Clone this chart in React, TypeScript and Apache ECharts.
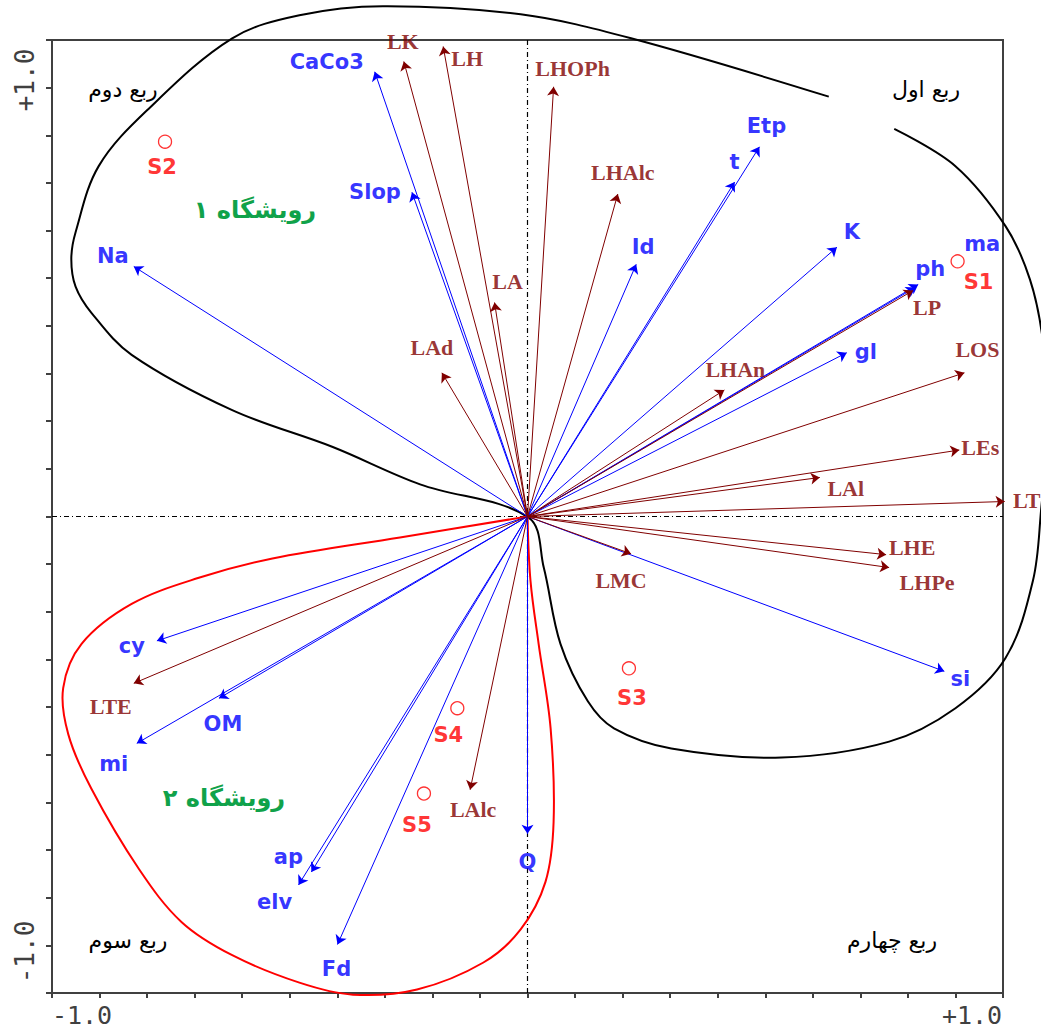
import React, { useEffect, useRef } from "react";
import * as echarts from "echarts";

// ---- Environmental variables (blue arrows) ----
const envNames = ["CaCo3", "Slop", "Na", "Etp", "t", "Id", "K", "ph", "ma", "gl", "si", "Q", "Fd", "elv", "ap", "mi", "OM", "cy"];
const envX = [-0.357, -0.27, -0.92, 0.542, 0.484, 0.254, 0.723, 0.906, 0.913, 0.746, 0.974, 0.0, -0.444, -0.535, -0.505, -0.913, -0.721, -0.866];
const envY = [1.037, 0.756, 0.583, 0.862, 0.78, 0.588, 0.628, 0.534, 0.541, 0.382, -0.361, -0.74, -0.998, -0.859, -0.829, -0.529, -0.424, -0.29];
const envLabelOffset = [[-48, -10], [-37, 0], [-21, -10], [7, -21], [0, -20], [7, -17], [15, -15], [15, -18], [64, -40], [19, -1], [16, 8], [0, 28], [-1, 25], [-24, 17], [-23, -15], [-23, 21], [4, 26], [-25, 5]];

// ---- Species (brown arrows) ----
const spNames = ["LK", "LH", "LHOPh", "LHAlc", "LA", "LAd", "LP", "LHAn", "LOS", "LEs", "LAl", "LT", "LHE", "LHPe", "LMC", "LTE", "LAlc"];
const spX = [-0.289, -0.197, 0.061, 0.211, -0.077, -0.2, 0.901, 0.46, 1.021, 1.009, 0.683, 1.115, 0.838, 0.845, 0.242, -0.92, -0.134];
const spY = [1.061, 1.096, 1.002, 0.752, 0.499, 0.335, 0.527, 0.295, 0.335, 0.155, 0.091, 0.035, -0.089, -0.119, -0.087, -0.389, -0.637];
const spLabelOffset = [[-1, -20], [24, 12], [19, -18], [5, -22], [13, -21], [-10, -25], [14, 17], [11, -20], [13, -23], [21, -3], [26, 11], [22, -1], [26, -7], [38, 15], [-10, 27], [-23, 23], [3, 20]];

// ---- Sites (red circles) ----
const siteNames = ["S1", "S2", "S3", "S4", "S5"];
const siteX = [1.005, -0.847, 0.237, -0.164, -0.242];
const siteY = [0.595, 0.874, -0.354, -0.447, -0.646];
const siteLabelOffset = [[21, 21], [-3, 25], [3, 30], [-9, 27], [-7, 31]];

// ---- Hand-drawn envelopes (data units) ----
const blackEnvelope = [
  [0.857, 0.904], [1.0, 0.817], [1.117, 0.677], [1.174, 0.553], [1.204, 0.412], [1.216, 0.225],
  [1.2, 0.014], [1.181, -0.15], [1.117, -0.33], [1.0, -0.447], [0.845, -0.525], [0.594, -0.562],
  [0.336, -0.541], [0.202, -0.494], [0.141, -0.431], [0.077, -0.297], [0.038, -0.119], [0.002, -0.002],
  [-0.251, 0.075], [-0.455, 0.162], [-0.69, 0.248], [-0.925, 0.377], [-1.019, 0.475], [-1.056, 0.536],
  [-1.066, 0.6], [-1.056, 0.663], [-1.002, 0.817], [-0.885, 0.951], [-0.69, 1.115], [-0.533, 1.169],
  [-0.338, 1.19], [-0.016, 1.171], [0.242, 1.115], [0.704, 0.979],
];
const redEnvelope = [
  [0, 0], [-0.298, -0.049], [-0.596, -0.098], [-0.768, -0.143], [-0.925, -0.204], [-1.042, -0.297],
  [-1.085, -0.4], [-1.073, -0.508], [-1.019, -0.635], [-0.908, -0.822], [-0.808, -0.946], [-0.69, -1.023],
  [-0.533, -1.087], [-0.408, -1.115], [-0.258, -1.103], [-0.103, -1.04], [-0.016, -0.963], [0.042, -0.852],
  [0.061, -0.712], [0.054, -0.494], [0.026, -0.297], [0.007, -0.15], [0, 0],
];

// ---- Axis ----
const AXIS_MIN = -10 / 9;
const AXIS_MAX = 10 / 9;
const AXIS_STEP = 1 / 9;
const axisTickLabels = ["-1.0", "+1.0"];

// ---- Annotation texts ----
const quadrantTexts = ["ربع دوم", "ربع اول", "ربع سوم", "ربع چهارم"];
const habitatTexts = ["رویشگاه ۱", "رویشگاه ۲"];

const BLUE = "#0000ff";
const BROWN = "#800000";
const RED = "#ff0000";
const GREEN = "#10a24a";

export default function App() {
  const ref = useRef<HTMLDivElement>(null);

  useEffect(() => {
    const chart = echarts.init(ref.current as HTMLDivElement, null, { renderer: "svg" });

    const arrowSeries = (xs: number[], ys: number[], color: string) => ({
      type: "lines",
      coordinateSystem: "cartesian2d",
      symbol: ["none", "arrow"],
      symbolSize: 9,
      silent: true,
      clip: false,
      lineStyle: { color, width: 1, opacity: 1 },
      data: xs.map((x, i) => ({ coords: [[0, 0], [x, ys[i]]] })),
      z: 3,
    });

    const labelSeries = (
      names: string[], xs: number[], ys: number[], offs: number[][],
      color: string, fontFamily: string, fontSize: number
    ) => ({
      type: "scatter",
      symbolSize: 1,
      silent: true,
      clip: false,
      itemStyle: { color: "rgba(0,0,0,0)" },
      label: {
        show: true,
        position: "inside",
        formatter: "{b}",
        color,
        fontFamily,
        fontWeight: "bold",
        fontSize,
      },
      data: names.map((n, i) => ({ name: n, value: [xs[i], ys[i]], label: { offset: offs[i] } })),
      z: 5,
    });

    const toPx = (pts: number[][]) => {
      // grid: left 52, top 40, width 951, height 953, axis range [AXIS_MIN, AXIS_MAX]
      const span = AXIS_MAX - AXIS_MIN;
      return pts.map((p) => [52 + ((p[0] - AXIS_MIN) / span) * 951, 40 + ((AXIS_MAX - p[1]) / span) * 953]);
    };

    const txt = (x: number, y: number, text: string, extra: any, rotation = 0) => ({
      type: "text", x, y, rotation, z: 10,
      style: { text, align: "center", verticalAlign: "middle", ...extra },
    });
    const monoX = { fontFamily: "DejaVu Sans Mono", fontSize: 25, fill: "#404040" };
    const monoY = { fontFamily: "DejaVu Sans Mono", fontSize: 26, fill: "#404040" };
    const quad = { fontFamily: "DejaVu Sans", fontSize: 22, fill: "#000" };
    const hab = { fontFamily: "DejaVu Sans", fontWeight: "bold", fontSize: 24, fill: GREEN };

    const option: any = {
      animation: false,
      backgroundColor: "#ffffff",
      grid: {
        left: 52, top: 40, width: 951, height: 953,
        show: true, borderColor: "#404040", borderWidth: 2, backgroundColor: "#ffffff",
      },
      xAxis: {
        type: "value", min: AXIS_MIN, max: AXIS_MAX, interval: AXIS_STEP,
        axisLine: { show: true, onZero: false, lineStyle: { color: "#404040", width: 2 } },
        axisTick: { show: true, inside: false, length: 5, lineStyle: { color: "#404040", width: 2 } },
        axisLabel: { show: false },
        splitLine: { show: false },
      },
      yAxis: {
        type: "value", min: AXIS_MIN, max: AXIS_MAX, interval: AXIS_STEP,
        axisLine: { show: true, onZero: false, lineStyle: { color: "#404040", width: 2 } },
        axisTick: { show: true, inside: false, length: 6, lineStyle: { color: "#404040", width: 2 } },
        axisLabel: { show: false },
        splitLine: { show: false },
      },
      graphic: [
        {
          type: "polyline", z: 2, silent: true,
          shape: { points: toPx(blackEnvelope), smooth: 0.35 },
          style: { stroke: "#000", lineWidth: 2, fill: null },
        },
        {
          type: "polyline", z: 2, silent: true,
          shape: { points: toPx(redEnvelope), smooth: 0.35 },
          style: { stroke: RED, lineWidth: 2, fill: null },
        },
        txt(82, 1015, axisTickLabels[0], monoX),
        txt(972, 1015, axisTickLabels[1], monoX),
        txt(25, 80, axisTickLabels[1], monoY, Math.PI / 2),
        txt(25, 952, axisTickLabels[0], monoY, Math.PI / 2),
        txt(123, 89, quadrantTexts[0], quad),
        txt(926, 89, quadrantTexts[1], quad),
        txt(128, 940, quadrantTexts[2], quad),
        txt(892, 940, quadrantTexts[3], quad),
        txt(255, 210, habitatTexts[0], hab),
        txt(224, 798, habitatTexts[1], hab),
      ],
      series: [
        {
          type: "line", symbol: "none", silent: true,
          lineStyle: { color: "#000", width: 1.2, type: [5, 3, 1, 3] },
          data: [[AXIS_MIN, 0], [AXIS_MAX, 0]], z: 1,
        },
        {
          type: "line", symbol: "none", silent: true,
          lineStyle: { color: "#000", width: 1.2, type: [5, 3, 1, 3] },
          data: [[0, AXIS_MIN], [0, AXIS_MAX]], z: 1,
        },
        arrowSeries(envX, envY, BLUE),
        arrowSeries(spX, spY, BROWN),
        {
          type: "scatter",
          symbol: "circle",
          symbolSize: 13,
          silent: true,
          clip: false,
          itemStyle: { color: "rgba(0,0,0,0)", borderColor: RED, borderWidth: 1.3 },
          label: {
            show: true, position: "inside", formatter: "{b}", color: RED,
            fontFamily: "DejaVu Sans", fontWeight: "bold", fontSize: 21,
          },
          data: siteNames.map((n, i) => ({ name: n, value: [siteX[i], siteY[i]], label: { offset: siteLabelOffset[i] } })),
          z: 5,
        },
        labelSeries(envNames, envX, envY, envLabelOffset, BLUE, "DejaVu Sans", 21),
        labelSeries(spNames, spX, spY, spLabelOffset, BROWN, "Liberation Serif", 22),
      ],
    };

    chart.setOption(option);
    return () => chart.dispose();
  }, []);

  return (
    <div
      ref={ref}
      style={{ position: "fixed", left: 0, top: 0, width: 1041, height: 1029, background: "#fff" }}
    />
  );
}
